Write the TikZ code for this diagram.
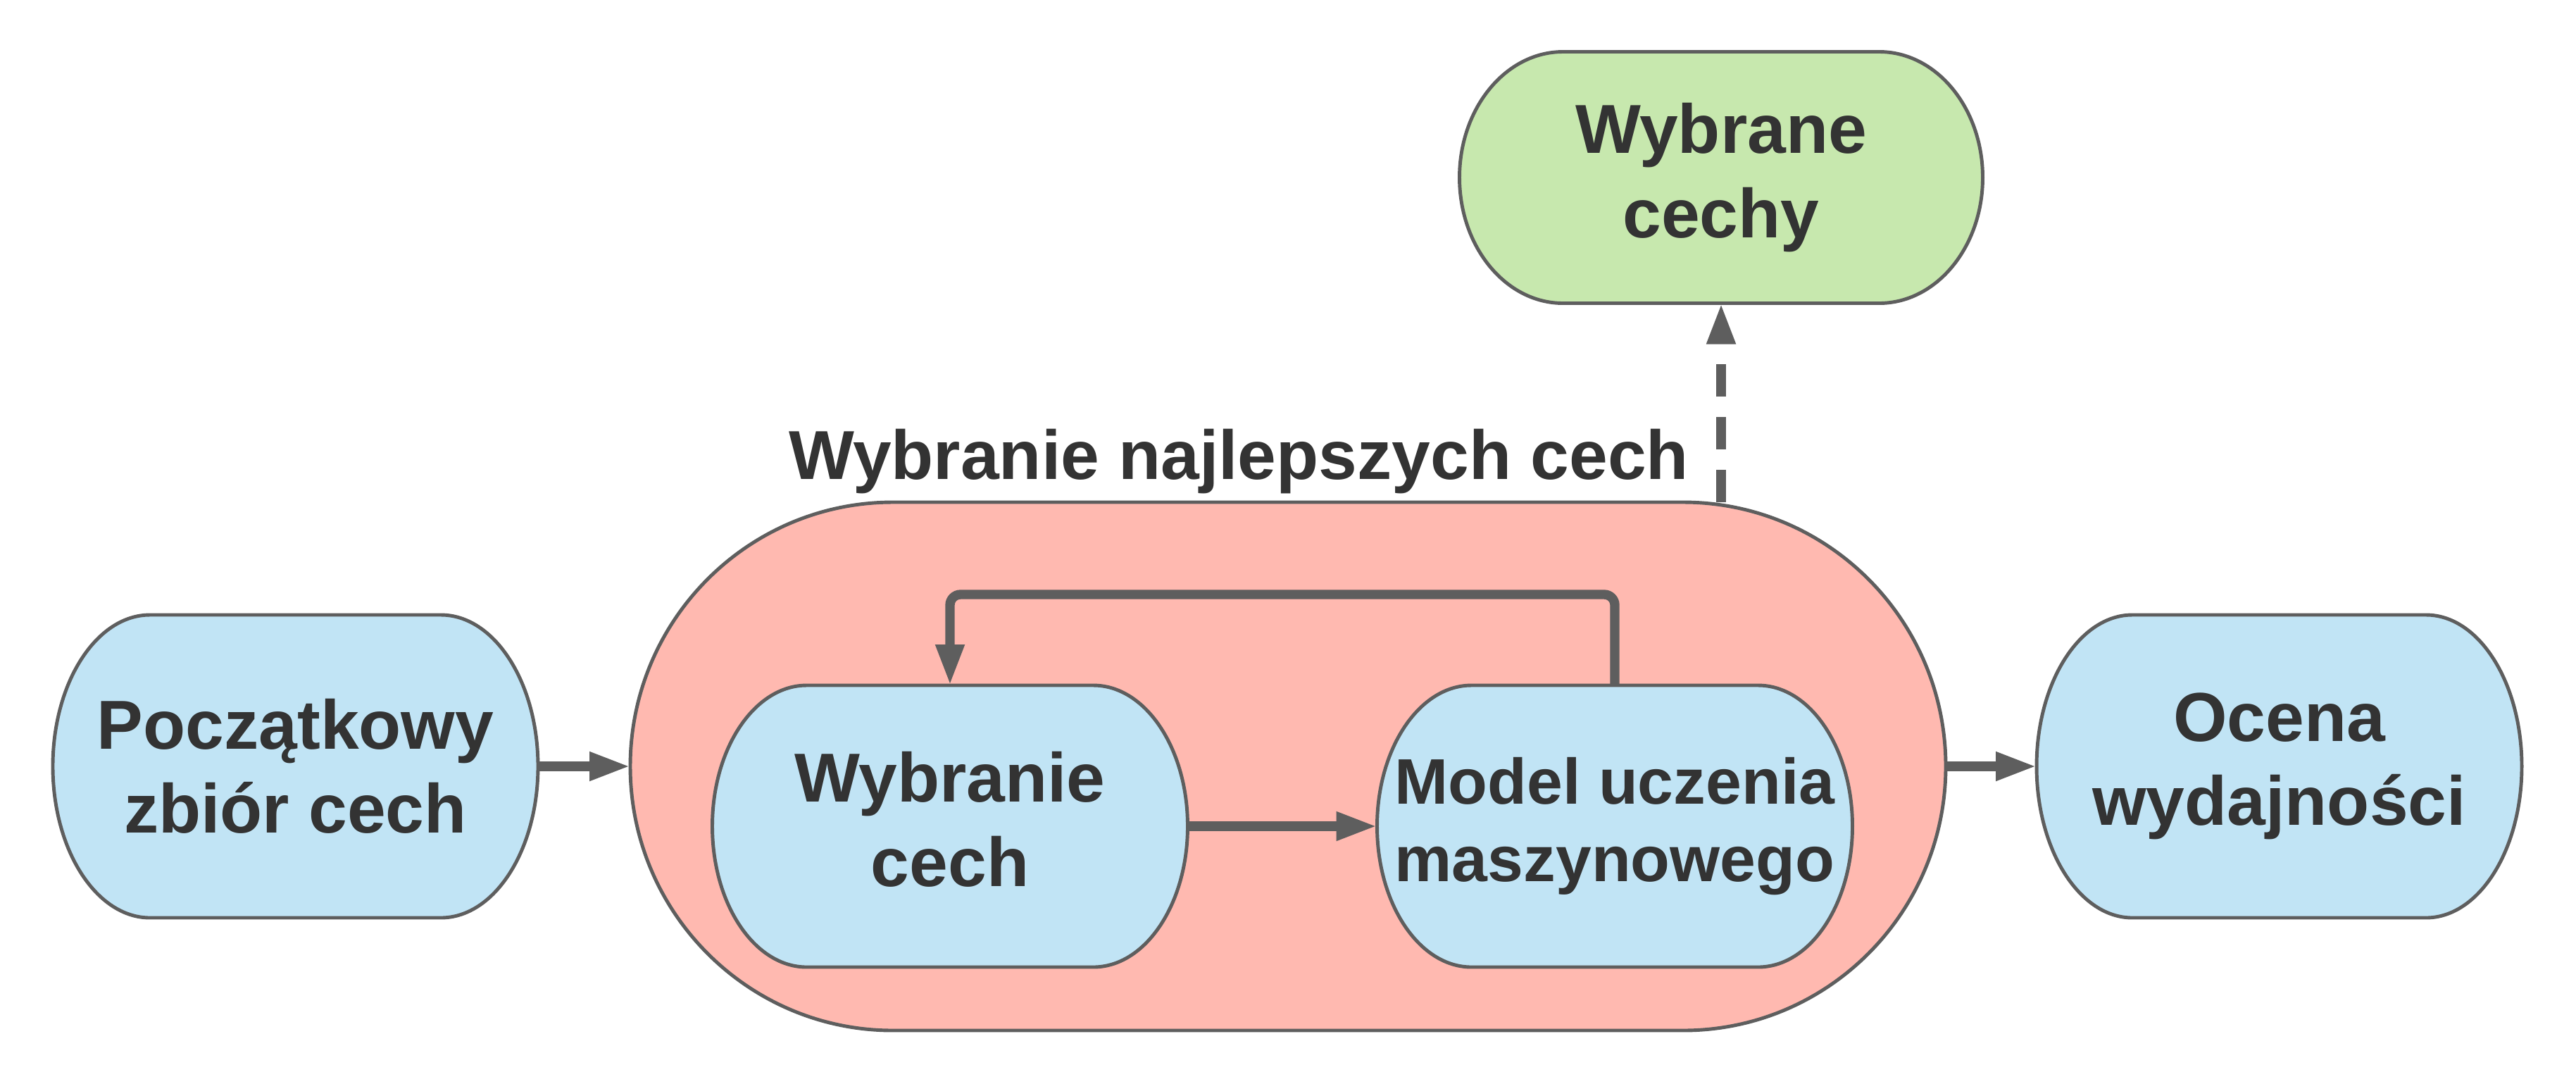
\documentclass[tikz,border=0pt]{standalone}
\usepackage{fontspec}
\setmainfont{Liberation Sans}
\usetikzlibrary{positioning, arrows.meta, calc, backgrounds}

\definecolor{textgray}{HTML}{333333}
\definecolor{linegray}{HTML}{5E5E5E}
\definecolor{bluefill}{HTML}{C1E4F5}
\definecolor{pinkfill}{HTML}{FFB9B0}
\definecolor{greenfill}{HTML}{C7E8AE}

\begin{document}
\begin{tikzpicture}[
    >={Triangle[length=5.8mm, width=3.8mm]}, % Filled triangle tips
    % Styles
    block/.style={ % Capsule node, outline drawn on background
        rectangle,
        minimum width=6.89cm,
        minimum height=4.3cm,
        inner sep=0pt,
        outer sep=0pt,
        align=center,
        text=textgray,
        font=\bfseries\fontsize{28}{34}\selectfont
    },
    inner/.style={ % Steps inside the selection loop
        block,
        minimum width=6.75cm,
        minimum height=4cm
    },
    group/.style={ % Large rounded container
        block,
        minimum width=18.68cm,
        minimum height=7.5cm
    },
    heading/.style={
        text=textgray,
        font=\bfseries\fontsize{28}{34}\selectfont
    },
    capsule/.style={
        draw=linegray,
        line width=1.4pt
    },
    arrow/.style={
        ->,
        draw=linegray,
        line width=3.8pt
    },
    arrowc/.style={ % Arrow with rounded corners
        arrow,
        rounded corners=.15cm
    }
]
    \useasboundingbox (0,0) rectangle (36.58,-15.38);

    % Container and outer nodes
    \node[group] (pipeline) at (18.29,-10.88) {};
    \node[block, left=1.31cm of pipeline] (start) {Początkowy\\zbiór cech};
    \node[block, right=1.29cm of pipeline] (eval) {Ocena\\wydajności};
    \node[block, minimum width=7.43cm, minimum height=3.57cm] (chosen) at (24.44,-2.52) {Wybrane\\cechy};
    \node[heading, anchor=base] (title) at (17.59,-6.80) {Wybranie najlepszych cech};

    % Inner loop
    \node[inner] (select) at (13.49,-11.73) {Wybranie\\cech\vphantom{y}};
    \node[inner, right=2.69cm of select, font=\bfseries\fontsize{26}{31.5}\selectfont] (model) {Model uczenia\\maszynowego};

    % Capsule outlines
    \begin{scope}[on background layer]
        \foreach \N/\F/\R in {pipeline/pinkfill/3.73, start/bluefill/1.38, eval/bluefill/1.36,
                chosen/greenfill/1.47, select/bluefill/1.34, model/bluefill/1.34} {
            \draw[capsule, fill=\F] let \p1=(\N.north west), \p2=(\N.south east),
                    \n1={(\y1-\y2)/2}, \n2={\R*1cm} in
                (\x1+\n2,\y1) -- (\x2-\n2,\y1)
                arc[start angle=90, end angle=-90, x radius=\n2, y radius=\n1]
                -- (\x1+\n2,\y2)
                arc[start angle=270, end angle=90, x radius=\n2, y radius=\n1]
                -- cycle;
        }
    \end{scope}

    % Connectors
    \draw[arrow] (start) -- (pipeline);
    \draw[arrow] (pipeline) -- (eval);
    \draw[arrow] (select) -- (model);
    \draw[arrowc] (model.north) -- ++(0,1.29) -| (select.north);
    \draw[arrow, dash pattern=on 4.6mm off 2.9mm] (chosen.south |- pipeline.north) -- (chosen.south);
\end{tikzpicture}
\end{document}
